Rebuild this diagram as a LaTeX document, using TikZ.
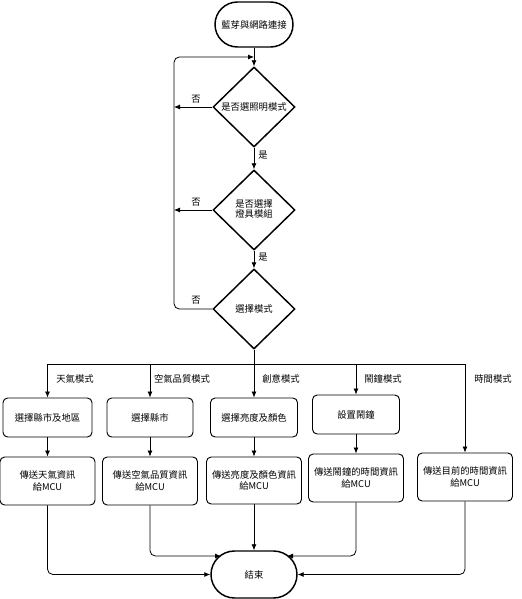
\documentclass[tikz,border=0pt]{standalone}
\usepackage{fontspec}
\setmainfont{Noto Sans CJK TC}
\usetikzlibrary{shapes.geometric,shapes.misc,arrows.meta}
\tikzset{
  base/.style={font=\fontsize{7}{8.5}\selectfont, inner sep=0pt},
  term/.style={base, rounded rectangle, draw, line width=1.1pt},
  dia/.style={base, diamond, draw, line width=1.1pt, minimum width=61.5pt, minimum height=60pt},
  box/.style={base, rectangle, rounded corners=3.5pt, draw, line width=0.7pt, align=center},
  lbl/.style={base},
  arr/.style={line width=0.6pt, -{Latex[length=4.5pt,width=3.8pt]}},
  ln/.style={line width=0.6pt},
}
\begin{document}
\begin{tikzpicture}[x=0.75pt,y=-0.75pt]
\useasboundingbox (0,0) rectangle (521,599);
% terminals
\node[term, minimum width=58.5pt, minimum height=33.75pt] (start) at (254,24.5) {藍芽與網路連接};
\node[term, minimum width=64.5pt, minimum height=35.25pt] (end) at (254,574.5) {結束};
% decisions
\node[dia] (d1) at (254,107) {\makebox[0pt]{是否選照明模式}};
\node[dia] (d2) at (254,210) {\makebox[0pt]{\begin{tabular}{@{}c@{}}是否選擇\\[-1pt]燈具模組\end{tabular}}};
\node[dia] (d3) at (254,309) {\makebox[0pt]{選擇模式}};
% first row
\node[box, minimum width=66.75pt, minimum height=29.25pt] (r1) at (47.5,417.5) {選擇縣市及地區};
\node[box, minimum width=64.5pt, minimum height=29.25pt] (r2) at (150,417.5) {選擇縣市};
\node[box, minimum width=65.25pt, minimum height=29.25pt] (r3) at (254,417.5) {選擇亮度及顏色};
\node[box, minimum width=65.25pt, minimum height=29.25pt] (r4) at (356,414.5) {設置鬧鐘};
% second row
\node[box, minimum width=71.25pt, minimum height=36pt] (s1) at (47.5,481) {傳送天氣資訊\\給MCU};
\node[box, minimum width=71.25pt, minimum height=36pt] (s2) at (150,481) {傳送空氣品質資訊\\給MCU};
\node[box, minimum width=71.25pt, minimum height=35.25pt] (s3) at (254,480.5) {傳送亮度及顏色資訊\\給MCU};
\node[box, minimum width=71.25pt, minimum height=36pt] (s4) at (356,478) {傳送鬧鐘的時間資訊\\給MCU};
\node[box, minimum width=71.25pt, minimum height=36pt] (s5) at (465,477) {傳送目前的時間資訊\\給MCU};
% helper coordinates
\coordinate (lt) at (174,57);
\coordinate (loopend) at (254,57);
\coordinate (bus) at (254,364);
\coordinate (e2) at (221,556);
\coordinate (e4) at (287,556);
% main column
\draw[arr] (start.south) -- (d1.north);
\draw[arr] (d1.south) -- (d2.north);
\draw[arr] (d2.south) -- (d3.north);
\draw[arr] (d1.west) -- (d1.west -| lt);
\draw[arr] (d2.west) -- (d2.west -| lt);
\draw[arr, rounded corners=4pt] (d3.west) -- (d3.west -| lt) -- (lt) -- (loopend);
\node[lbl] (n1) at (196,99) {否};
\node[lbl] (n2) at (196,202) {否};
\node[lbl] (n3) at (196,300) {否};
\node[lbl] (y1) at (263,155) {是};
\node[lbl] (y2) at (263,257) {是};
% bus
\draw[ln] (d3.south) -- (bus);
\draw[arr] (bus) -| (r1.north);
\draw[arr] (bus) -| (r2.north);
\draw[arr] (bus) -- (r3.north);
\draw[arr] (bus) -| (r4.north);
\draw[arr] (bus) -| (s5.north);
\node[lbl] (m1) at (75,379) {天氣模式};
\node[lbl] (m2) at (182,379) {空氣品質模式};
\node[lbl] (m3) at (281,379) {創意模式};
\node[lbl] (m4) at (383,379) {鬧鐘模式};
\node[lbl] (m5) at (493,379) {時間模式};
% rows
\draw[arr] (r1.south) -- (s1.north);
\draw[arr] (r2.south) -- (s2.north);
\draw[arr] (r3.south) -- (s3.north);
\draw[arr] (r4.south) -- (s4.north);
% to end
\draw[arr, rounded corners=4pt] (s1.south) |- (end.west);
\draw[arr, rounded corners=4pt] (s2.south) |- (e2);
\draw[arr] (s3.south) -- (end.north);
\draw[arr, rounded corners=4pt] (s4.south) |- (e4);
\draw[arr, rounded corners=4pt] (s5.south) |- (end.east);
\end{tikzpicture}
\end{document}
